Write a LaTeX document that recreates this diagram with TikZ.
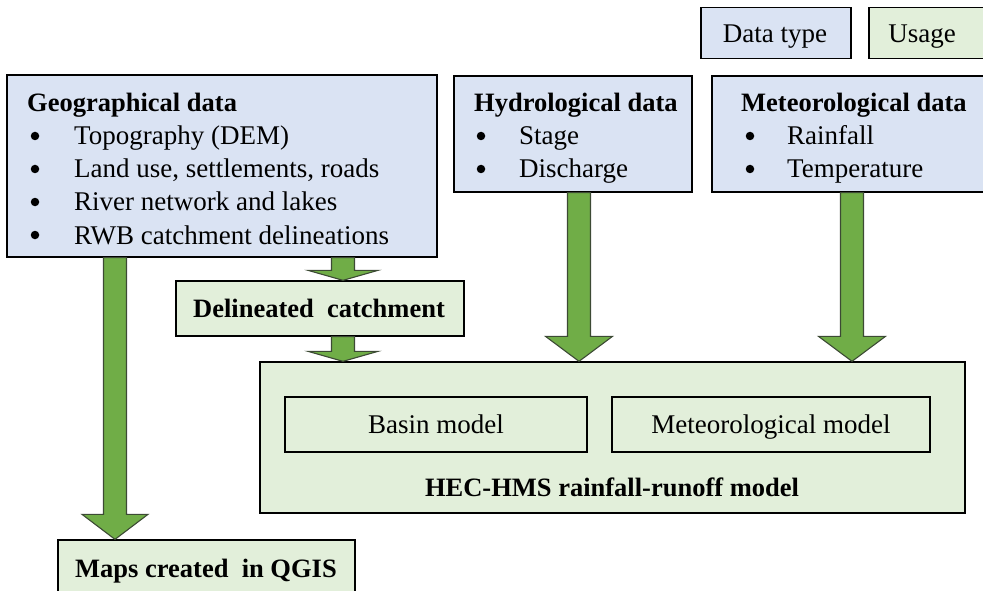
\documentclass[tikz,border=0pt]{standalone}
\usepackage{fontspec}
\setmainfont{Liberation Serif}
\usetikzlibrary{calc}

\definecolor{datablue}{HTML}{DAE3F3}
\definecolor{usegreen}{HTML}{E2EFDA}
\definecolor{arrowgreen}{HTML}{70AD47}
\definecolor{arrowedge}{HTML}{3C4A34}

\tikzset{
  box/.style={draw=black, line width=1.3pt, inner sep=0pt},
  databox/.style={box, fill=datablue},
  usebox/.style={box, fill=usegreen},
  innerbox/.style={draw=black, line width=1.3pt, inner sep=0pt},
  txt/.style={inner sep=0pt, anchor=base west, font=\fontsize{27}{31}\selectfont},
  ctxt/.style={inner sep=0pt, anchor=base, font=\fontsize{27}{31}\selectfont},
  btxt/.style={inner sep=0pt, font=\fontsize{26.5}{31}\selectfont\bfseries},
  dot/.style={circle, fill=black, inner sep=0pt, minimum size=8.5},
  fatarrowstyle/.style={fill=arrowgreen, draw=arrowedge, line width=1.1pt, line join=miter}
}

% block arrow: #1 = x position, #2 = source node, #3 = target node,
% #4 = head length, #5 = half width of the head
\newcommand\fatarrow[5]{%
  \draw[fatarrowstyle] let \p1=(#2.south), \p2=(#3.north) in
    (#1pt-11.5pt,\y1) -- (#1pt+11.5pt,\y1) -- (#1pt+11.5pt,\y2+#4pt)
    -- (#1pt+#5pt,\y2+#4pt) -- (#1pt,\y2) -- (#1pt-#5pt,\y2+#4pt)
    -- (#1pt-11.5pt,\y2+#4pt) -- cycle;}

\begin{document}
\begin{tikzpicture}[x=1pt, y=-1pt]
\useasboundingbox (0,0) rectangle (983,591);

% legend
\node[databox, minimum width=150, minimum height=51] (legdata) at (776,33) {};
\node[ctxt] (legdatatxt) at (775,43) {Data type};
\node[usebox, minimum width=121, minimum height=51] (leguse) at (929.5,33) {};
\node[ctxt] (legusetxt) at (922,43) {Usage};

% data boxes
\node[databox, minimum width=430, minimum height=182] (geo) at (222,166) {};
\node[databox, minimum width=238, minimum height=116] (hyd) at (573,134) {};
\node[databox, minimum width=278, minimum height=116] (met) at (851,134) {};

% usage boxes
\node[usebox, minimum width=288, minimum height=55] (catch) at (320,308.5) {};
\node[usebox, minimum width=705, minimum height=151] (hec) at (612.5,437.5) {};
\node[innerbox, minimum width=302, minimum height=55] (basin) at (436,424.5) {};
\node[innerbox, minimum width=318, minimum height=55] (metmod) at (771,424.5) {};
\node[usebox, minimum width=297, minimum height=60] (maps) at (206.5,570) {};

% geographical data
\node[btxt, anchor=base west] (geot) at (27,112) {Geographical data};
\foreach \y/\t [count=\i] in {145/{Topography (DEM)}, 178/{Land use, settlements, roads},
    211/{River network and lakes}, 244/{RWB catchment delineations}} {
  \node[dot] (geob\i) at (35,\y-9) {};
  \node[txt] (geoi\i) at (74,\y) {\t};
}

% hydrological data
\node[btxt, anchor=base west] (hydt) at (474,112) {Hydrological data};
\foreach \y/\t [count=\i] in {145/Stage, 178/Discharge} {
  \node[dot] (hydb\i) at (481,\y-9) {};
  \node[txt] (hydi\i) at (519,\y) {\t};
}

% meteorological data
\node[btxt, anchor=base west] (mett) at (741,112) {Meteorological data};
\foreach \y/\t [count=\i] in {145/Rainfall, 178/Temperature} {
  \node[dot] (metb\i) at (750,\y-9) {};
  \node[txt] (meti\i) at (787,\y) {\t};
}

% usage labels
\node[btxt, anchor=base] (catcht) at (319,317) {Delineated\ \ catchment};
\node[ctxt] (basint) at (436,433) {Basin model};
\node[ctxt] (metmodt) at (771,433) {Meteorological model};
\node[btxt, anchor=base] (hect) at (612,496) {HEC-HMS rainfall-runoff model};
\node[btxt, anchor=base] (mapst) at (206,577) {Maps created\ \ in QGIS};

% flow arrows
\fatarrow{115}{geo}{maps}{25}{33}
\fatarrow{343}{geo}{catch}{10}{35}
\fatarrow{343}{catch}{hec}{10}{35}
\fatarrow{579}{hyd}{hec}{25}{33.5}
\fatarrow{852}{met}{hec}{25}{33.5}
\end{tikzpicture}
\end{document}
